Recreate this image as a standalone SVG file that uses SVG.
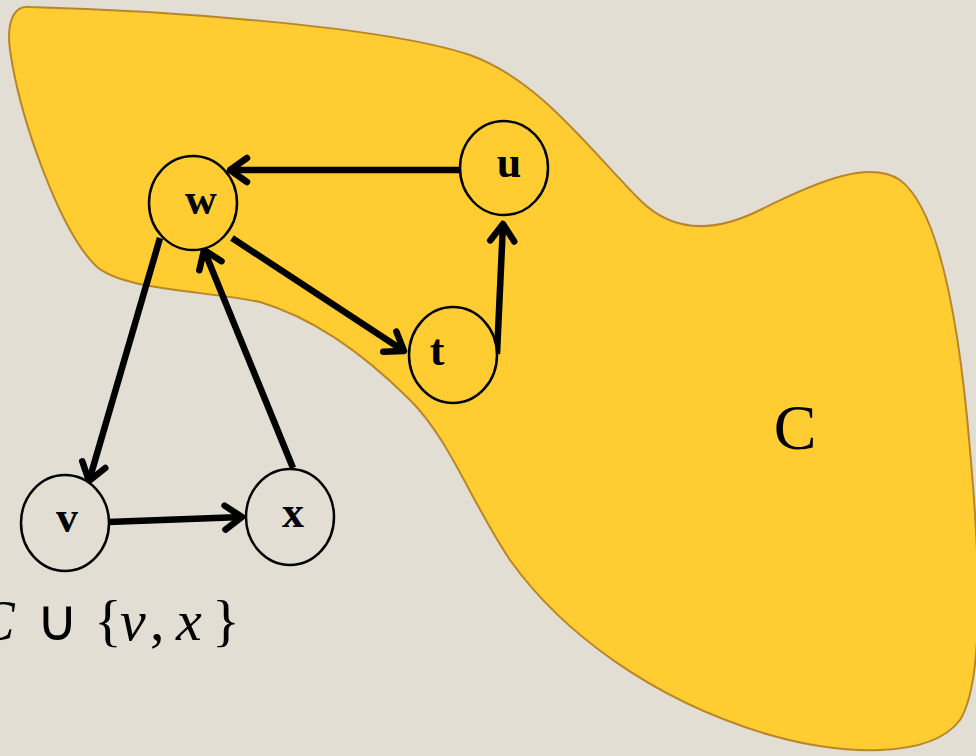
<svg xmlns="http://www.w3.org/2000/svg" width="976" height="756" viewBox="0 0 976 756">
<defs>
<style>
.node ellipse{stroke:#000;stroke-width:2.5}
.lbl{font-family:"Liberation Serif",serif;font-weight:bold;font-size:44px;text-anchor:middle;fill:#000}
.edge{stroke:#000;stroke-width:6.5;fill:none;stroke-linecap:butt}
.math{font-family:"Liberation Serif",serif;font-size:58px;fill:#000}
</style>
<marker id="arr" markerUnits="userSpaceOnUse" markerWidth="40" markerHeight="40" viewBox="-25 -20 30 40" refX="0" refY="0" orient="auto">
<path d="M -17 -12 L 0 0 L -17 12" fill="none" stroke="#000" stroke-width="6.5" stroke-linecap="round" stroke-linejoin="round"/>
</marker>
</defs>
<rect width="976" height="756" fill="#E3DED4"/>
<g id="region-C">
<path d="M 30 7 C 150 10, 380 25, 470 55 C 540 80, 590 150, 640 200 C 670 230, 710 235, 760 210 C 820 180, 870 160, 900 180 C 940 210, 960 330, 970 450 C 980 560, 985 680, 960 720 C 930 760, 840 755, 770 735 C 650 700, 560 630, 510 560 C 470 500, 450 440, 410 400 C 370 360, 320 320, 260 302 C 200 290, 120 290, 95 265 C 60 230, 20 120, 10 50 C 6 20, 15 5, 30 7 Z" fill="#FFCD32" stroke="#B8862A" stroke-width="2"/>
<text x="795" y="449" font-family="Liberation Serif, serif" font-size="64" text-anchor="middle" fill="#000">C</text>
</g>
<g id="connectors">
<line class="edge" x1="460" y1="170" x2="230" y2="170" marker-end="url(#arr)"/>
<line class="edge" x1="232" y1="238" x2="404" y2="351" marker-end="url(#arr)"/>
<line class="edge" x1="497" y1="354" x2="503" y2="224" marker-end="url(#arr)"/>
<line class="edge" x1="160" y1="238" x2="89" y2="481" marker-end="url(#arr)"/>
<line class="edge" x1="293" y1="468" x2="204" y2="250" marker-end="url(#arr)"/>
<line class="edge" x1="108" y1="522" x2="242" y2="517" marker-end="url(#arr)"/>
</g>
<g id="node-w" class="node"><ellipse cx="193" cy="203" rx="44" ry="47" fill="#FFCD32"/><text class="lbl" x="201" y="214">w</text></g>
<g id="node-u" class="node"><ellipse cx="504" cy="168" rx="44" ry="47" fill="#FFCD32"/><text class="lbl" x="509" y="177">u</text></g>
<g id="node-t" class="node"><ellipse cx="453" cy="355" rx="44" ry="48" fill="#FFCD32"/><text class="lbl" x="437" y="365">t</text></g>
<g id="node-v" class="node"><ellipse cx="65" cy="523" rx="44" ry="48" fill="#E3DED4"/><text class="lbl" x="67" y="532">v</text></g>
<g id="node-x" class="node"><ellipse cx="290" cy="517" rx="44" ry="48" fill="#E3DED4"/><text class="lbl" x="293" y="527">x</text></g>
<g id="label-union">
<text class="math" y="640"><tspan x="-24" font-style="italic">C</tspan><tspan x="36">∪</tspan><tspan x="94">{</tspan><tspan x="120" font-style="italic">v</tspan><tspan x="150">,</tspan><tspan x="176" font-style="italic">x</tspan><tspan x="212">}</tspan></text>
</g>
</svg>
